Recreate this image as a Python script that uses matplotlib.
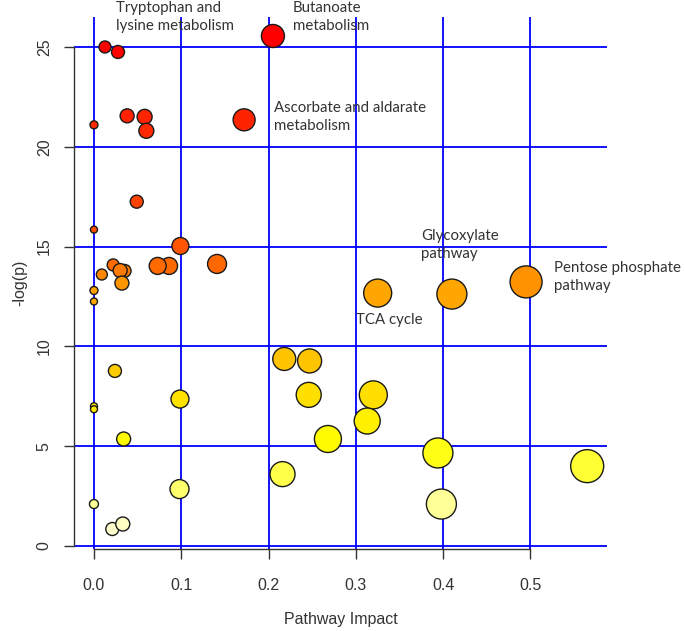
import matplotlib
matplotlib.use("Agg")
import matplotlib.pyplot as plt
import numpy as np
from matplotlib.colors import LinearSegmentedColormap

# pathway impact (x), -log(p) (y), bubble diameter estimate
impact = [0.0126, 0.0275, 0.205, 0.0, 0.038, 0.058, 0.060, 0.172, 0.049, 0.0,
          0.099, 0.009, 0.022, 0.035, 0.030, 0.032, 0.0, 0.0, 0.086, 0.073,
          0.141, 0.325, 0.410, 0.495, 0.218, 0.247, 0.246, 0.024, 0.0985, 0.0,
          0.0, 0.320, 0.313, 0.268, 0.034, 0.394, 0.565, 0.216, 0.098, 0.0,
          0.398, 0.021, 0.033]
neglogp = [25.0, 24.75, 25.55, 21.1, 21.55, 21.5, 20.8, 21.35, 17.25, 15.85,
           15.03, 13.6, 14.08, 13.78, 13.8, 13.17, 12.8, 12.25, 14.03, 14.03,
           14.13, 12.67, 12.62, 13.23, 9.37, 9.27, 7.57, 8.77, 7.36, 7.0,
           6.85, 7.57, 6.26, 5.36, 5.36, 4.66, 4.0, 3.6, 2.85, 2.1,
           2.1, 0.85, 1.1]
bubble = [12, 13, 23, 8, 14, 15, 15, 22, 13, 7,
          17, 11, 12, 13, 14, 14, 8, 7, 17, 17,
          19, 28, 30, 32, 23, 24, 25, 13, 18, 7,
          7, 28, 26, 27, 14, 30, 33, 25, 19, 9,
          30, 13, 14]

labels = ["Tryptophan and\nlysine metabolism", "Butanoate\nmetabolism",
          "Ascorbate and aldarate\nmetabolism", "Glycoxylate\npathway",
          "Pentose phosphate\npathway", "TCA cycle"]
label_x = [0.0252, 0.228, 0.206, 0.3746, 0.527, 0.300]
label_y = [26.5, 26.5, 21.49, 15.08, 13.48, 11.32]

anchors = [(0.0, "#FFFFF0"), (2.0 / 26, "#FFFF99"), (5.0 / 26, "#FFFF00"),
           (7.5 / 26, "#FFE000"), (9.3 / 26, "#FFC400"), (12.7 / 26, "#FFA500"),
           (13.5 / 26, "#FF8A00"), (14.0 / 26, "#FF6C00"), (15.0 / 26, "#FF5500"),
           (17.0 / 26, "#FF4500"), (21.0 / 26, "#FF2800"), (25.0 / 26, "#FF0000"),
           (1.0, "#FF0000")]
heat = LinearSegmentedColormap.from_list("heat", anchors)

fig = plt.figure(figsize=(6.85, 6.31), dpi=100)
ax = fig.add_axes([0.108, 0.130, 0.778, 0.843])

sizes = (np.array(bubble) * 0.72) ** 2
ax.scatter(impact, neglogp, s=sizes, c=neglogp, cmap=heat, vmin=0, vmax=26,
           edgecolors="#1a1a1a", linewidths=1.0, zorder=3)

ax.set_xlim(-0.0229, 0.5876)
ax.set_ylim(-0.15, 26.5)
ax.set_xticks([0.0, 0.1, 0.2, 0.3, 0.4, 0.5])
ax.set_xticklabels(["0.0", "0.1", "0.2", "0.3", "0.4", "0.5"])
ax.set_yticks([0, 5, 10, 15, 20, 25])
ax.grid(True, color="#0000ff", linewidth=1.3)
ax.set_axisbelow(True)

for side in ["top", "right"]:
    ax.spines[side].set_visible(False)
ax.spines["left"].set_bounds(0, 25)
ax.spines["bottom"].set_bounds(0, 0.5)
for side in ["left", "bottom"]:
    ax.spines[side].set_color("#333333")
    ax.spines[side].set_linewidth(1.0)

ax.tick_params(axis="both", length=7, width=1.0, color="#333333",
               labelcolor="#333333", labelsize=11.5)
ax.tick_params(axis="x", pad=14)
ax.tick_params(axis="y", pad=9)
for t in ax.get_xticklabels() + ax.get_yticklabels():
    t.set_fontfamily("Liberation Sans")
for t in ax.get_yticklabels():
    t.set_rotation(90)
    t.set_va("center")

ax.set_xlabel("Pathway Impact", fontsize=11.5, family="Liberation Sans", color="#333333")
ax.set_ylabel("-log(p)", fontsize=11.5, family="Liberation Sans", color="#333333")
ax.xaxis.set_label_coords(0.5, -0.1335)
ax.yaxis.set_label_coords(-0.101, 0.5)
ax.xaxis.label.set_va("center")
ax.yaxis.label.set_va("center")

for txt, lx, ly in zip(labels, label_x, label_y):
    ax.text(lx, ly, txt, ha="left", va="center", fontsize=10.8, family="Lato",
            color="#333333", linespacing=1.3)

fig.savefig("out.png", dpi=100)
